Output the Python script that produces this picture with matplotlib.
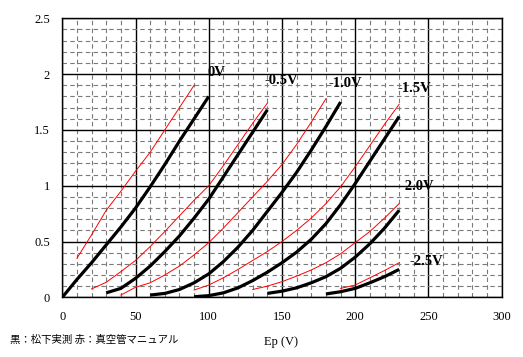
import matplotlib
matplotlib.use("Agg")
import matplotlib.pyplot as plt
from matplotlib.ticker import MultipleLocator

# ---- data (Ep in V, Ip in mA) ----
grid_labels = ["0V", "-0.5V", "-1.0V", "-1.5V", "-2.0V", "-2.5V"]

# Black: Matsushita measured
blk_0_x = [0, 10, 20, 30, 40, 50, 60, 70, 80, 90, 100]
blk_0_y = [0, 0.16, 0.31, 0.47, 0.63, 0.80, 0.99, 1.19, 1.40, 1.60, 1.80]
blk_05_x = [30, 40, 50, 60, 70, 80, 90, 100, 110, 120, 130, 140]
blk_05_y = [0.04, 0.08, 0.17, 0.28, 0.41, 0.55, 0.71, 0.88, 1.08, 1.28, 1.48, 1.68]
blk_10_x = [60, 70, 80, 90, 100, 110, 120, 130, 140, 150, 160, 170, 180, 190]
blk_10_y = [0.02, 0.035, 0.07, 0.13, 0.21, 0.32, 0.45, 0.60, 0.77, 0.94, 1.12, 1.32, 1.53, 1.75]
blk_15_x = [90, 100, 110, 120, 130, 140, 150, 160, 170, 180, 190, 200, 210, 220, 230]
blk_15_y = [0.005, 0.015, 0.04, 0.085, 0.15, 0.225, 0.31, 0.405, 0.52, 0.66, 0.83, 1.02, 1.22, 1.42, 1.62]
blk_20_x = [140, 150, 160, 170, 180, 190, 200, 210, 220, 230]
blk_20_y = [0.035, 0.055, 0.085, 0.13, 0.185, 0.26, 0.36, 0.48, 0.62, 0.78]
blk_25_x = [180, 190, 200, 210, 220, 230]
blk_25_y = [0.03, 0.05, 0.08, 0.13, 0.185, 0.25]

# Red: tube manual
red_0_x = [10, 20, 30, 40, 50, 60, 70, 80, 90]
red_0_y = [0.35, 0.56, 0.78, 0.95, 1.13, 1.30, 1.50, 1.70, 1.90]
red_05_x = [20, 30, 40, 50, 60, 70, 80, 90, 100, 110, 120, 130, 140]
red_05_y = [0.075, 0.135, 0.23, 0.33, 0.455, 0.59, 0.73, 0.87, 1.0, 1.18, 1.37, 1.56, 1.74]
red_10_x = [40, 50, 60, 70, 80, 90, 100, 110, 120, 130, 140, 150, 160, 170, 180]
red_10_y = [0.02, 0.09, 0.13, 0.20, 0.28, 0.38, 0.49, 0.62, 0.76, 0.90, 1.04, 1.19, 1.37, 1.57, 1.78]
red_15_x = [90, 100, 110, 120, 130, 140, 150, 160, 170, 180, 190, 200, 210, 220, 230]
red_15_y = [0.065, 0.11, 0.175, 0.25, 0.33, 0.41, 0.50, 0.60, 0.71, 0.84, 0.99, 1.17, 1.36, 1.55, 1.73]
red_20_x = [130, 140, 150, 160, 170, 180, 190, 200, 210, 220, 230]
red_20_y = [0.07, 0.10, 0.14, 0.19, 0.245, 0.31, 0.39, 0.49, 0.59, 0.71, 0.84]
red_25_x = [190, 200, 210, 220, 230]
red_25_y = [0.08, 0.11, 0.175, 0.24, 0.31]

label_x = [99, 138, 182, 229, 231, 237]
label_y = [2.01, 1.94, 1.92, 1.87, 0.99, 0.325]

x_ticks = [0, 50, 100, 150, 200, 250, 300]
y_ticks = [0, 0.5, 1, 1.5, 2, 2.5]
x_tick_labels = ["0", "50", "100", "150", "200", "250", "300"]
y_tick_labels = ["0", "0.5", "1", "1.5", "2", "2.5"]

# ---- figure ----
fig = plt.figure(figsize=(5.23, 3.57), dpi=100)
ax = fig.add_axes([0.1191, 0.1672, 0.8402, 0.7815])
ax.set_xlim(0, 300)
ax.set_ylim(0, 2.5)

ax.xaxis.set_major_locator(MultipleLocator(50))
ax.yaxis.set_major_locator(MultipleLocator(0.5))
ax.xaxis.set_minor_locator(MultipleLocator(10))
ax.yaxis.set_minor_locator(MultipleLocator(0.1))
ax.grid(which="minor", color="#7a7a7a", linestyle=(0, (4, 3)), linewidth=0.8)
ax.grid(which="major", color="black", linestyle="-", linewidth=1.0)
ax.set_axisbelow(True)
ax.tick_params(which="both", length=0)
ax.set_xticks(x_ticks)
ax.set_xticklabels(x_tick_labels)
ax.set_yticks(y_ticks)
ax.set_yticklabels(y_tick_labels)
for lab in ax.get_xticklabels() + ax.get_yticklabels():
    lab.set_family("Liberation Serif")
    lab.set_fontsize(9)
ax.tick_params(axis="x", pad=10)
ax.tick_params(axis="y", pad=9)
for s in ax.spines.values():
    s.set_color("black")
    s.set_linewidth(1.0)

blacks = [(blk_0_x, blk_0_y), (blk_05_x, blk_05_y), (blk_10_x, blk_10_y),
          (blk_15_x, blk_15_y), (blk_20_x, blk_20_y), (blk_25_x, blk_25_y)]
reds = [(red_0_x, red_0_y), (red_05_x, red_05_y), (red_10_x, red_10_y),
        (red_15_x, red_15_y), (red_20_x, red_20_y), (red_25_x, red_25_y)]
for xs, ys in reds:
    ax.plot(xs, ys, color="red", linewidth=0.7, zorder=3)
for xs, ys in blacks:
    ax.plot(xs, ys, color="black", linewidth=2.3, zorder=4, solid_capstyle="butt")

for t, lx, ly in zip(grid_labels, label_x, label_y):
    ax.text(lx, ly, t, fontsize=10.5, fontweight="bold", family="Liberation Serif",
            ha="left", va="center", zorder=5)

fig.text(281 / 523, 1 - 341.5 / 357, "Ep (V)", fontsize=9, family="Liberation Serif",
         ha="center", va="center")
fig.text(10 / 523, 1 - 340 / 357, "黒：松下実測 赤：真空管マニュアル", fontsize=7.5,
         family=["Noto Sans CJK JP", "DejaVu Sans"], ha="left", va="center")

fig.savefig("out.png", dpi=100)
